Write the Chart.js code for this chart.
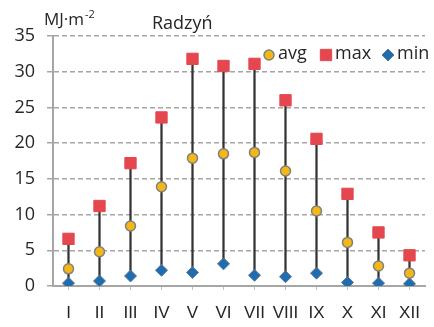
<!DOCTYPE html>
<html>
<head>
<meta charset="utf-8">
<script src="https://cdn.jsdelivr.net/npm/chart.js@4.4.1/dist/chart.umd.min.js"></script>
<style>
  html, body { margin: 0; padding: 0; background: #fff; }
  #wrap { width: 434px; height: 327px; position: relative; }
</style>
</head>
<body>
<div id="wrap"><canvas id="myChart"></canvas></div>
<script>
// monthly radiation, Radzyń
const months = ['I', 'II', 'III', 'IV', 'V', 'VI', 'VII', 'VIII', 'IX', 'X', 'XI', 'XII'];
const avgVals = [2.4, 4.8, 8.4, 13.9, 17.9, 18.5, 18.7, 16.1, 10.5, 6.1, 2.8, 1.8];
const maxVals = [6.6, 11.2, 17.2, 23.6, 31.8, 30.8, 31.1, 26.0, 20.6, 12.9, 7.5, 4.3];
const minVals = [0.4, 0.7, 1.4, 2.2, 1.9, 3.1, 1.5, 1.3, 1.8, 0.5, 0.4, 0.3];
const yTicks = [0, 5, 10, 15, 20, 25, 30, 35];

const fontFam = '"Open Sans", sans-serif';
const monthFam = 'Liberation Sans, Arial, sans-serif';
const textCol = '#262626';

// title, unit and the legend inside the plot
const labelsPlugin = {
  id: 'labels',
  afterDraw(chart) {
    const c = chart.ctx;
    c.save();
    c.fillStyle = textCol;
    c.textBaseline = 'alphabetic';
    c.textAlign = 'left';
    c.font = '17px ' + fontFam;
    c.fillText('MJ·m', 44, 25);
    let w = c.measureText('MJ·m').width;
    c.font = '11px ' + fontFam;
    c.fillText('-2', 44 + w + 1, 18);
    c.font = '18px ' + fontFam;
    c.fillText('Radzyń', 152, 29);

    // legend
    const ly = 55;
    const items = [
      { x: 269, text: 'avg', style: 'circle', r: 5, bg: '#F5B716', bd: '#808080', bw: 1.5 },
      { x: 326, text: 'max', style: 'rect', r: 8, bg: '#E5474F', bd: '#E5474F', bw: 1 },
      { x: 388, text: 'min', style: 'rectRot', r: 6, bg: '#1F6CB0', bd: '#5E7890', bw: 1 }
    ];
    c.font = '18px ' + fontFam;
    c.textBaseline = 'middle';
    items.forEach(it => {
      c.fillStyle = it.bg;
      c.strokeStyle = it.bd;
      c.lineWidth = it.bw;
      Chart.helpers.drawPoint(c, { pointStyle: it.style, radius: it.r, borderWidth: it.bw }, it.x, ly);
      c.fillStyle = textCol;
      c.fillText(it.text, it.x + 9, ly - 1);
    });
    c.restore();
  }
};

const ctx = document.getElementById('myChart');

const data = {
  labels: months,
  datasets: [
    {
      type: 'line',
      label: 'avg',
      data: avgVals,
      showLine: false,
      pointStyle: 'circle',
      pointRadius: 5,
      pointBackgroundColor: '#F5B716',
      pointBorderColor: '#808080',
      pointBorderWidth: 1.5,
      order: 1
    },
    {
      type: 'line',
      label: 'min',
      data: minVals,
      showLine: false,
      pointStyle: 'rectRot',
      pointRadius: 6,
      pointBackgroundColor: '#1F6CB0',
      pointBorderColor: '#5E7890',
      pointBorderWidth: 1,
      order: 2
    },
    {
      type: 'line',
      label: 'max',
      data: maxVals,
      showLine: false,
      pointStyle: 'rect',
      pointRadius: 8,
      pointBackgroundColor: '#E5474F',
      pointBorderColor: '#E5474F',
      pointBorderWidth: 1,
      order: 3
    },
    {
      type: 'bar',
      label: 'range',
      data: months.map((m, i) => [minVals[i], maxVals[i]]),
      backgroundColor: '#333333',
      barThickness: 1.6,
      order: 10
    }
  ]
};

const config = {
  type: 'bar',
  data,
  options: {
    responsive: true,
    maintainAspectRatio: false,
    animation: false,
    layout: { padding: { top: 36, right: 4, left: 0, bottom: 0 } },
    plugins: {
      legend: { display: false },
      tooltip: { enabled: false }
    },
    scales: {
      x: {
        offset: true,
        grid: { display: true, drawOnChartArea: false, offset: false, tickLength: 4, color: '#BFBFBF' },
        border: { color: '#A6A6A6', width: 2 },
        ticks: { color: textCol, font: { family: monthFam, size: 17 }, padding: 13, maxRotation: 0, autoSkip: false },
        afterFit(scale) { scale.height = 41; }
      },
      y: {
        min: 0,
        max: 35,
        afterBuildTicks(scale) { scale.ticks = yTicks.map(v => ({ value: v })); },
        grid: { color: '#A6A6A6', lineWidth: 1.5, tickLength: 6, tickColor: '#A6A6A6', tickWidth: 1.5 },
        border: { color: '#A6A6A6', width: 2, dash: [5, 3] },
        ticks: { color: textCol, font: { family: fontFam, size: 18 }, padding: 12 },
        afterFit(scale) { scale.width = 53; }
      }
    }
  },
  plugins: [labelsPlugin]
};

const myChart = new Chart(ctx, config);
</script>
</body>
</html>
